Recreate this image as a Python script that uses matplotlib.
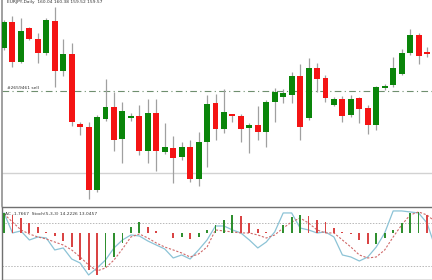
import matplotlib
matplotlib.use('Agg')
import matplotlib.pyplot as plt
import numpy as np

# EURJPY daily candles
opens  = [160.24, 160.76, 159.96, 160.64, 160.42, 160.14, 160.78, 159.78, 160.12, 158.72,
          158.66, 157.40, 158.82, 159.06, 158.42, 158.84, 158.88, 158.18, 158.94, 158.16,
          158.24, 158.06, 158.26, 157.62, 158.36, 159.14, 158.62, 158.92, 158.88, 158.64,
          158.70, 158.56, 159.16, 159.26, 159.30, 159.68, 158.84, 159.84, 159.64, 159.10,
          159.22, 158.90, 159.24, 159.04, 158.70, 159.44, 159.50, 159.72, 160.14, 160.50,
          160.16]
highs  = [160.80, 160.88, 160.84, 160.66, 160.54, 160.84, 161.06, 160.42, 160.34, 158.76,
          158.76, 158.90, 159.62, 159.36, 159.16, 158.94, 159.10, 159.22, 159.22, 158.74,
          158.48, 158.36, 158.40, 158.56, 159.30, 159.32, 159.42, 158.92, 158.92, 158.74,
          159.08, 159.20, 159.44, 159.42, 159.76, 159.92, 160.04, 159.94, 159.70, 159.26,
          159.28, 159.30, 159.26, 159.10, 159.48, 159.52, 160.06, 160.22, 160.62, 160.54,
          160.26]
lows   = [160.20, 159.86, 159.94, 160.40, 159.94, 160.10, 159.46, 159.68, 158.68, 158.50,
          157.22, 157.36, 158.78, 158.18, 157.94, 158.78, 158.10, 157.94, 157.78, 158.12,
          157.54, 158.00, 157.56, 157.48, 157.86, 158.40, 158.54, 158.76, 158.36, 158.14,
          158.40, 158.26, 158.76, 159.14, 159.14, 158.40, 158.80, 159.36, 159.16, 159.08,
          158.76, 158.86, 158.74, 158.52, 158.60, 159.40, 159.46, 159.70, 160.10, 159.92,
          160.06]
closes = [160.76, 159.96, 160.58, 160.42, 160.14, 160.80, 159.78, 160.12, 158.76, 158.66,
          157.40, 158.86, 159.06, 158.40, 158.98, 158.88, 158.18, 158.94, 158.18, 158.26,
          158.04, 158.26, 157.62, 158.36, 159.12, 158.62, 158.96, 158.88, 158.62, 158.70,
          158.56, 159.16, 159.36, 159.34, 159.68, 158.66, 159.84, 159.62, 159.24, 159.22,
          158.88, 159.22, 159.02, 158.70, 159.46, 159.48, 159.84, 160.14, 160.50, 160.08,
          160.12]

sell_level = 159.38
grey_level = 157.74

# Accelerator oscillator histogram
ac = [20, 18, 15, 10, 6, 1, -3, -8, -14, -27,
      -37, -42, -34, -24, -10, 6, 11, 6, 2, 0.5,
      -5, -4, -6, -4, 3, 8, 13, 18, 17, 10,
      4, 1, 0.5, 8, 16, 18, 17, 13, 11, 5,
      1.5, -1, -7, -11, -10.5, -5, 3, 10, 20, 21,
      18]

# Stochastic(5,3,3) main and signal
stoch_main = [93.9, 66.0, 68.8, 56.2, 60.4, 59.0, 42.3, 45.1, 29.7, 24.1,
              7.4, 17.2, 28.3, 45.1, 56.2, 63.2, 61.8, 54.8, 49.2, 43.7,
              31.1, 35.3, 29.7, 42.3, 56.2, 75.7, 75.7, 70.2, 66.0, 56.2,
              45.1, 53.4, 67.4, 93.9, 93.9, 72.9, 70.2, 66.0, 67.4, 60.4,
              35.3, 32.5, 26.9, 32.5, 46.4, 66.0, 96.7, 96.7, 95.3, 93.9,
              79.9, 45.0]
stoch_sig = [92.5, 81.3, 70.2, 64.6, 60.4, 57.6, 53.4, 49.2, 42.3, 32.5,
             21.3, 13.0, 17.2, 28.3, 43.7, 60.4, 64.6, 59.0, 52.0, 46.4,
             42.3, 38.1, 32.5, 36.7, 46.4, 70.2, 68.8, 67.4, 66.0, 66.0,
             63.2, 59.0, 63.2, 72.9, 81.3, 86.8, 79.9, 70.2, 66.0, 66.0,
             56.2, 46.4, 35.3, 31.1, 32.5, 42.3, 60.4, 77.1, 91.1, 95.3,
             91.1, 81.3]

title_txt = 'EURJPY,Daily  160.04 160.38 159.52 159.57'
sell_txt = '#2659461 sell'
sub_txt = 'AC -1.7667  Stoch(5,3,3) 14.2226 13.0457'

W, H = 432, 280
fig = plt.figure(figsize=(W / 100, H / 100), dpi=100)
fig.patch.set_facecolor('white')

xlim = (-0.236, 50.59)

# ---- main price panel
ax = fig.add_axes([2 / W, 74 / H, 430 / W, 206 / H])
x = np.arange(len(opens))
o = np.array(opens); c = np.array(closes)
up = c >= o
ax.vlines(x, lows, highs, color='#a0a0a0', lw=0.9, zorder=2)
body_h = np.maximum(np.abs(c - o), 0.03)
ax.bar(x, body_h, bottom=np.minimum(o, c), width=0.7,
       color=np.where(up, '#0a850a', '#f41414'), zorder=3)
ax.axhline(sell_level, color='#6f8f6f', lw=0.8, ls=(0, (6, 3, 1, 3)), zorder=1)
ax.axhline(grey_level, color='#d2d2d2', lw=1.0, zorder=1)
ax.text(0.4, sell_level + 0.02, sell_txt, fontsize=3.2, color='#333333', va='bottom')
ax.set_xlim(*xlim)
ax.set_ylim(157.08, 161.20)
ax.set_xticks([]); ax.set_yticks([])
for s in ['top', 'right', 'bottom']:
    ax.spines[s].set_visible(False)
ax.spines['left'].set_color('#909090')
ax.spines['left'].set_linewidth(1.2)

fig.text(7 / W, 1 - 0.5 / H, title_txt, fontsize=3.2, color='#333333', va='top')

# ---- sub panel: AC + Stochastic
ax2 = fig.add_axes([2 / W, 0.5 / H, 430 / W, 72.5 / H])
xs = np.arange(len(stoch_main))
ax2.axhline(80, color='#b8b8b8', lw=0.7, ls=(0, (1.5, 1.5)))
ax2.axhline(20, color='#b8b8b8', lw=0.7, ls=(0, (1.5, 1.5)))
ax2.plot(xs, stoch_main, color='#8cc3d6', lw=0.9, zorder=3)
ax2.plot(xs, stoch_sig, color='#d06a6a', lw=0.8, ls=(0, (2, 1.5)), zorder=3)
ax2.set_xlim(*xlim)
ax2.set_ylim(1.1, 102.2)
ax2.set_xticks([]); ax2.set_yticks([])
for s in ax2.spines.values():
    s.set_color('#707070')
    s.set_linewidth(1.0)
ax2.spines['right'].set_visible(False)

acx = np.arange(len(ac))
acv = np.array(ac)
ac_col = ['#2f8f2f'] + ['#2f8f2f' if acv[i] > acv[i - 1] else '#d94444' for i in range(1, len(acv))]
ax3 = ax2.twinx()
ax3.bar(acx, acv, width=0.22, color=ac_col, zorder=2)
ax3.set_ylim(-46.5, 26)
ax3.set_xlim(*xlim)
ax3.set_yticks([])
for s in ax3.spines.values():
    s.set_visible(False)

fig.text(5 / W, 1 - 214 / H, sub_txt, fontsize=3.2, color='#333333', va='center')

fig.savefig('out.png', dpi=100, facecolor='white')
